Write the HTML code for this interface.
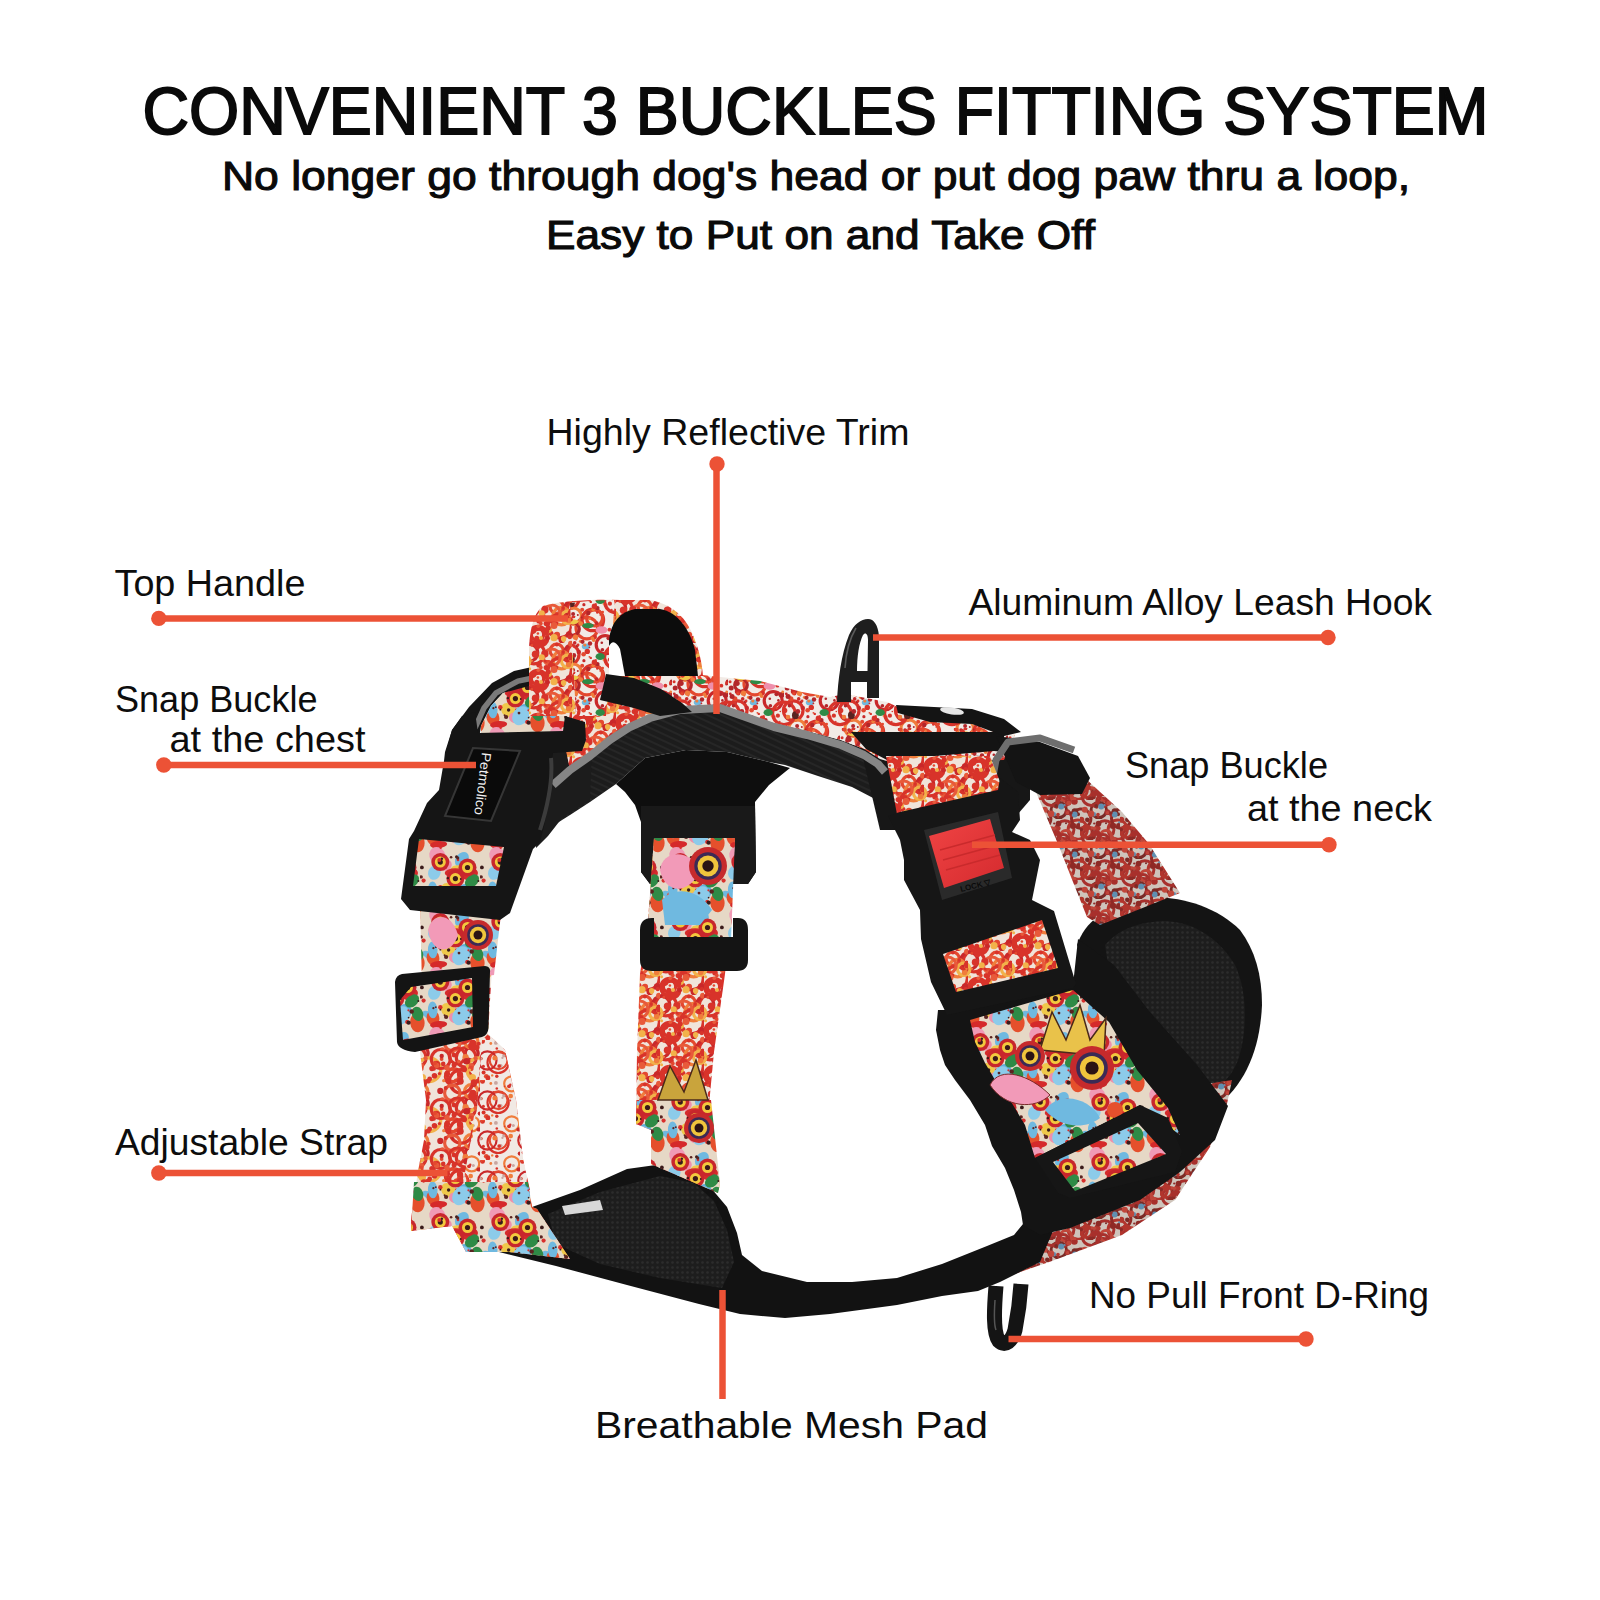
<!DOCTYPE html>
<html><head><meta charset="utf-8">
<style>
html,body{margin:0;padding:0;background:#fff;width:1600px;height:1600px;overflow:hidden}
svg{display:block}
.t{font-family:"Liberation Sans",sans-serif;fill:#0a0a0a}
.l{font-family:"Liberation Sans",sans-serif;fill:#0d0d0d;font-size:37px}
.ln{stroke:#ec5236;stroke-width:6.5;fill:none}
.dt{fill:#ec5236}
</style></head><body>
<svg width="1600" height="1600" viewBox="0 0 1600 1600">
<rect width="1600" height="1600" fill="#fff"/>
<g id="harness"><defs>
<pattern id="pw" width="56" height="56" patternUnits="userSpaceOnUse">
<rect width="56" height="56" fill="#f2ebe6"/>
<circle cx="9.2" cy="38.6" r="9.8" fill="none" stroke="#d8332a" stroke-width="3.2"/>
<circle cx="65.2" cy="38.6" r="9.8" fill="none" stroke="#d8332a" stroke-width="3.2"/>
<circle cx="26.8" cy="12.1" r="10.8" fill="none" stroke="#e4482f" stroke-width="3.2"/>
<circle cx="45.2" cy="28.7" r="9.0" fill="none" stroke="#c9282a" stroke-width="3.2"/>
<circle cx="13.2" cy="0.2" r="8.2" fill="none" stroke="#f07d3c" stroke-width="3.2"/>
<circle cx="13.2" cy="56.2" r="8.2" fill="none" stroke="#f07d3c" stroke-width="3.2"/>
<circle cx="32.8" cy="3.9" r="10.8" fill="none" stroke="#d8332a" stroke-width="3.2"/>
<circle cx="32.8" cy="59.9" r="10.8" fill="none" stroke="#d8332a" stroke-width="3.2"/>
<circle cx="13.0" cy="13.0" r="6.3" fill="none" stroke="#b3262a" stroke-width="3.2"/>
<circle cx="-0.1" cy="41.4" r="11.3" fill="none" stroke="#d8332a" stroke-width="3.2"/>
<circle cx="55.9" cy="41.4" r="11.3" fill="none" stroke="#d8332a" stroke-width="3.2"/>
<circle cx="34.5" cy="1.9" r="8.0" fill="none" stroke="#e4482f" stroke-width="3.2"/>
<circle cx="34.5" cy="57.9" r="8.0" fill="none" stroke="#e4482f" stroke-width="3.2"/>
<ellipse cx="27.9" cy="9.6" rx="5.9" ry="2.7" fill="#2f8a46"/>
<ellipse cx="11.4" cy="43.2" rx="3.4" ry="3.9" fill="#5a2320"/>
<ellipse cx="25.8" cy="30.5" rx="4.0" ry="3.0" fill="#6fb9e0"/>
<ellipse cx="13.0" cy="5.8" rx="5.6" ry="2.5" fill="#efc84a"/>
<ellipse cx="41.5" cy="14.0" rx="5.9" ry="3.8" fill="#ef8fab"/>
<ellipse cx="40.2" cy="40.6" rx="4.7" ry="3.5" fill="#2f8a46"/>
<circle cx="6.9" cy="26.7" r="2.5" fill="#e4482f"/>
<circle cx="19.1" cy="8.2" r="1.9" fill="#c9282a"/>
<circle cx="20.5" cy="25.3" r="1.6" fill="#f07d3c"/>
<circle cx="21.6" cy="1.5" r="1.0" fill="#b3262a"/>
<circle cx="40.1" cy="55.0" r="0.8" fill="#d8332a"/>
<circle cx="30.8" cy="41.9" r="1.2" fill="#d8332a"/>
<circle cx="17.8" cy="54.9" r="1.0" fill="#b3262a"/>
<circle cx="9.5" cy="19.5" r="2.7" fill="#c9282a"/>
<circle cx="42.7" cy="52.1" r="1.3" fill="#e4482f"/>
<circle cx="3.7" cy="45.6" r="2.4" fill="#c9282a"/>
<circle cx="9.0" cy="2.1" r="1.8" fill="#b3262a"/>
<circle cx="53.7" cy="22.8" r="2.8" fill="#b3262a"/>
<circle cx="33.1" cy="49.5" r="1.8" fill="#f07d3c"/>
<circle cx="37.3" cy="52.4" r="1.3" fill="#d8332a"/>
<circle cx="3.9" cy="45.1" r="2.3" fill="#f07d3c"/>
<circle cx="3.2" cy="16.1" r="2.5" fill="#b3262a"/>
<circle cx="16.2" cy="23.5" r="1.1" fill="#d8332a"/>
<circle cx="48.7" cy="36.1" r="1.1" fill="#e4482f"/>
<circle cx="41.8" cy="26.8" r="1.3" fill="#b3262a"/>
<circle cx="29.4" cy="40.8" r="0.9" fill="#e4482f"/>
<circle cx="50.4" cy="20.5" r="1.1" fill="#c9282a"/>
<circle cx="33.7" cy="23.9" r="2.0" fill="#f07d3c"/>
<circle cx="17.2" cy="29.9" r="1.4" fill="#b3262a"/>
<circle cx="0.6" cy="38.4" r="2.7" fill="#d8332a"/>
<circle cx="14.8" cy="18.3" r="1.3" fill="#d8332a"/>
<circle cx="23.6" cy="38.3" r="2.3" fill="#e4482f"/>
<circle cx="7.5" cy="5.3" r="1.0" fill="#d8332a"/>
<circle cx="35.9" cy="44.0" r="0.9" fill="#d8332a"/>
<circle cx="36.7" cy="7.1" r="1.9" fill="#c9282a"/>
<circle cx="22.2" cy="49.7" r="2.0" fill="#e4482f"/>
<circle cx="10.3" cy="21.2" r="2.2" fill="#d8332a"/>
<circle cx="42.4" cy="33.8" r="1.8" fill="#b3262a"/>
<circle cx="43.4" cy="44.3" r="0.8" fill="#f07d3c"/>
<circle cx="48.4" cy="22.3" r="1.9" fill="#b3262a"/>
<circle cx="13.1" cy="54.0" r="2.0" fill="#b3262a"/>
<circle cx="2.3" cy="21.8" r="1.4" fill="#c9282a"/>
<circle cx="45.8" cy="45.0" r="1.8" fill="#d8332a"/>
<circle cx="5.5" cy="33.7" r="1.8" fill="#b3262a"/>
<circle cx="18.1" cy="28.9" r="1.4" fill="#d8332a"/>
<circle cx="29.4" cy="31.4" r="0.9" fill="#c9282a"/>
<circle cx="54.7" cy="19.9" r="1.4" fill="#f07d3c"/>
<circle cx="6.0" cy="4.3" r="0.9" fill="#f07d3c"/>
<circle cx="28.3" cy="53.0" r="2.2" fill="#b3262a"/>
<circle cx="24.8" cy="29.0" r="1.6" fill="#f07d3c"/>
<circle cx="3.9" cy="1.4" r="2.1" fill="#d8332a"/>
<circle cx="13.8" cy="39.4" r="2.4" fill="#b3262a"/>
<circle cx="23.9" cy="44.7" r="1.6" fill="#c9282a"/>
<circle cx="27.3" cy="35.4" r="2.7" fill="#d8332a"/>
<circle cx="2.1" cy="9.7" r="1.5" fill="#d8332a"/>
<circle cx="49.9" cy="43.7" r="2.1" fill="#d8332a"/>
<circle cx="37.4" cy="48.1" r="2.2" fill="#b3262a"/>
<circle cx="14.7" cy="26.9" r="1.8" fill="#c9282a"/>
<circle cx="34.4" cy="46.2" r="2.7" fill="#d8332a"/>
<circle cx="9.1" cy="11.3" r="2.6" fill="#b3262a"/>
<circle cx="8.1" cy="31.0" r="1.0" fill="#c9282a"/>
<circle cx="34.7" cy="21.0" r="2.3" fill="#d8332a"/>
<circle cx="55.5" cy="9.3" r="1.7" fill="#b3262a"/>
<circle cx="18.8" cy="35.9" r="2.2" fill="#c9282a"/>
<circle cx="4.6" cy="1.6" r="1.8" fill="#e4482f"/>
<circle cx="50.4" cy="28.4" r="1.3" fill="#b3262a"/>
<circle cx="15.5" cy="21.2" r="2.7" fill="#f07d3c"/>
<circle cx="22.5" cy="25.8" r="2.1" fill="#b3262a"/>
<circle cx="9.8" cy="21.5" r="1.3" fill="#e4482f"/>
<circle cx="54.6" cy="12.1" r="1.5" fill="#b3262a"/>
<circle cx="52.3" cy="39.5" r="0.8" fill="#d8332a"/>
<circle cx="32.5" cy="22.3" r="1.7" fill="#f07d3c"/>
<circle cx="13.5" cy="0.4" r="1.9" fill="#d8332a"/>
<circle cx="54.5" cy="10.7" r="1.5" fill="#d8332a"/>
<circle cx="20.7" cy="7.6" r="2.4" fill="#f07d3c"/>
<circle cx="29.6" cy="2.8" r="1.2" fill="#f07d3c"/>
<circle cx="49.4" cy="13.7" r="1.9" fill="#d8332a"/>
<circle cx="51.8" cy="49.5" r="0.8" fill="#d8332a"/>
<circle cx="4.1" cy="24.4" r="2.5" fill="#b3262a"/>
<circle cx="10.5" cy="3.3" r="2.4" fill="#d8332a"/>
<circle cx="30.0" cy="27.5" r="2.2" fill="#b3262a"/>
</pattern><pattern id="pl" width="40" height="40" patternUnits="userSpaceOnUse">
<rect width="40" height="40" fill="#f1e9e4"/>
<circle cx="18.1" cy="22.4" r="10.6" fill="none" stroke="#d8332a" stroke-width="2.2"/>
<circle cx="18.6" cy="20.3" r="8.9" fill="none" stroke="#e4482f" stroke-width="2.2"/>
<circle cx="7.4" cy="20.5" r="9.1" fill="none" stroke="#c9282a" stroke-width="2.2"/>
<circle cx="47.4" cy="20.5" r="9.1" fill="none" stroke="#c9282a" stroke-width="2.2"/>
<circle cx="31.7" cy="3.8" r="7.5" fill="none" stroke="#f07d3c" stroke-width="2.2"/>
<circle cx="31.7" cy="43.8" r="7.5" fill="none" stroke="#f07d3c" stroke-width="2.2"/>
<circle cx="3.6" cy="32.4" r="2.0" fill="#d8332a"/>
<circle cx="23.8" cy="15.8" r="1.6" fill="#c9a6a0"/>
<circle cx="24.6" cy="6.3" r="0.8" fill="#d8332a"/>
<circle cx="2.5" cy="1.4" r="2.4" fill="#d8332a"/>
<circle cx="1.2" cy="18.6" r="1.6" fill="#e4482f"/>
<circle cx="20.8" cy="25.6" r="1.7" fill="#c9a6a0"/>
<circle cx="3.4" cy="26.2" r="1.5" fill="#d8332a"/>
<circle cx="39.8" cy="33.6" r="2.1" fill="#c9282a"/>
<circle cx="30.3" cy="20.5" r="0.9" fill="#d8332a"/>
<circle cx="30.7" cy="16.0" r="2.3" fill="#f07d3c"/>
<circle cx="2.7" cy="0.7" r="2.0" fill="#e4482f"/>
<circle cx="8.4" cy="36.4" r="1.6" fill="#c9a6a0"/>
<circle cx="15.9" cy="2.9" r="1.9" fill="#c9a6a0"/>
<circle cx="10.8" cy="3.5" r="1.4" fill="#f07d3c"/>
<circle cx="30.3" cy="4.7" r="1.2" fill="#d8332a"/>
<circle cx="0.4" cy="18.6" r="1.7" fill="#c9a6a0"/>
<circle cx="22.4" cy="17.9" r="1.1" fill="#c9a6a0"/>
<circle cx="30.8" cy="16.8" r="1.5" fill="#f07d3c"/>
<circle cx="16.8" cy="8.5" r="1.3" fill="#d8332a"/>
<circle cx="12.2" cy="35.4" r="1.2" fill="#f07d3c"/>
<circle cx="39.8" cy="24.1" r="1.8" fill="#d8332a"/>
<circle cx="39.6" cy="8.5" r="1.3" fill="#d8332a"/>
<circle cx="13.2" cy="11.9" r="0.9" fill="#d8332a"/>
<circle cx="8.3" cy="25.5" r="0.8" fill="#c9282a"/>
<circle cx="14.9" cy="18.1" r="2.5" fill="#f07d3c"/>
<circle cx="33.3" cy="5.4" r="1.5" fill="#c9a6a0"/>
<circle cx="6.2" cy="36.3" r="2.3" fill="#e4482f"/>
<circle cx="29.0" cy="6.3" r="1.9" fill="#d8332a"/>
<circle cx="7.9" cy="38.0" r="2.4" fill="#d8332a"/>
<circle cx="3.1" cy="1.9" r="1.0" fill="#d8332a"/>
<circle cx="38.5" cy="9.5" r="2.1" fill="#c9282a"/>
<circle cx="16.8" cy="36.2" r="1.7" fill="#d8332a"/>
<circle cx="7.0" cy="28.8" r="0.9" fill="#e4482f"/>
<circle cx="19.2" cy="26.1" r="1.9" fill="#d8332a"/>
</pattern><pattern id="pr" width="44" height="44" patternUnits="userSpaceOnUse">
<rect width="44" height="44" fill="#f0e4da"/>
<circle cx="5.9" cy="-6.7" r="10.6" fill="none" stroke="#d8332a" stroke-width="3.2"/>
<circle cx="5.9" cy="37.3" r="10.6" fill="none" stroke="#d8332a" stroke-width="3.2"/>
<circle cx="49.9" cy="-6.7" r="10.6" fill="none" stroke="#d8332a" stroke-width="3.2"/>
<circle cx="49.9" cy="37.3" r="10.6" fill="none" stroke="#d8332a" stroke-width="3.2"/>
<circle cx="11.2" cy="21.8" r="8.7" fill="none" stroke="#d8332a" stroke-width="3.2"/>
<circle cx="28.7" cy="34.7" r="6.6" fill="none" stroke="#e4482f" stroke-width="3.2"/>
<circle cx="1.2" cy="-7.2" r="8.6" fill="none" stroke="#c9282a" stroke-width="3.2"/>
<circle cx="1.2" cy="36.8" r="8.6" fill="none" stroke="#c9282a" stroke-width="3.2"/>
<circle cx="45.2" cy="-7.2" r="8.6" fill="none" stroke="#c9282a" stroke-width="3.2"/>
<circle cx="45.2" cy="36.8" r="8.6" fill="none" stroke="#c9282a" stroke-width="3.2"/>
<circle cx="33.5" cy="0.1" r="8.7" fill="none" stroke="#f07d3c" stroke-width="3.2"/>
<circle cx="33.5" cy="44.1" r="8.7" fill="none" stroke="#f07d3c" stroke-width="3.2"/>
<circle cx="31.7" cy="10.1" r="11.7" fill="none" stroke="#d8332a" stroke-width="3.2"/>
<circle cx="31.7" cy="54.1" r="11.7" fill="none" stroke="#d8332a" stroke-width="3.2"/>
<circle cx="-4.3" cy="1.3" r="6.2" fill="none" stroke="#f2b24a" stroke-width="3.2"/>
<circle cx="-4.3" cy="45.3" r="6.2" fill="none" stroke="#f2b24a" stroke-width="3.2"/>
<circle cx="39.7" cy="1.3" r="6.2" fill="none" stroke="#f2b24a" stroke-width="3.2"/>
<circle cx="39.7" cy="45.3" r="6.2" fill="none" stroke="#f2b24a" stroke-width="3.2"/>
<circle cx="23.8" cy="-2.7" r="8.3" fill="none" stroke="#e85a3a" stroke-width="3.2"/>
<circle cx="23.8" cy="41.3" r="8.3" fill="none" stroke="#e85a3a" stroke-width="3.2"/>
<circle cx="9.5" cy="18.6" r="6.2" fill="none" stroke="#d8332a" stroke-width="3.2"/>
<circle cx="9.8" cy="19.3" r="9.0" fill="none" stroke="#d8332a" stroke-width="3.2"/>
<circle cx="10.3" cy="10.2" r="1.8" fill="#e85a3a"/>
<circle cx="41.9" cy="40.8" r="2.3" fill="#d8332a"/>
<circle cx="40.6" cy="4.4" r="2.8" fill="#f07d3c"/>
<circle cx="5.3" cy="14.6" r="3.1" fill="#d8332a"/>
<circle cx="41.2" cy="18.6" r="3.4" fill="#c9282a"/>
<circle cx="13.3" cy="25.9" r="3.5" fill="#d8332a"/>
<circle cx="17.3" cy="37.5" r="2.4" fill="#f2b24a"/>
<circle cx="18.2" cy="7.6" r="2.6" fill="#d8332a"/>
<circle cx="3.8" cy="29.2" r="1.5" fill="#e4482f"/>
<circle cx="22.9" cy="17.3" r="2.5" fill="#d8332a"/>
<circle cx="20.7" cy="13.6" r="3.4" fill="#f2b24a"/>
<circle cx="28.5" cy="7.4" r="1.8" fill="#d8332a"/>
<circle cx="33.9" cy="23.7" r="3.4" fill="#c9282a"/>
<circle cx="17.8" cy="15.1" r="3.4" fill="#d8332a"/>
<circle cx="20.2" cy="11.8" r="2.6" fill="#d8332a"/>
<circle cx="16.9" cy="37.7" r="3.7" fill="#d8332a"/>
<circle cx="35.6" cy="22.8" r="2.7" fill="#f2b24a"/>
<circle cx="41.8" cy="21.2" r="2.1" fill="#d8332a"/>
<circle cx="8.8" cy="22.2" r="2.5" fill="#d8332a"/>
<circle cx="18.2" cy="0.1" r="2.6" fill="#d8332a"/>
<circle cx="20.2" cy="1.2" r="1.8" fill="#e4482f"/>
<circle cx="24.2" cy="8.0" r="1.4" fill="#d8332a"/>
<circle cx="35.1" cy="35.9" r="1.9" fill="#d8332a"/>
<circle cx="3.7" cy="0.7" r="1.2" fill="#f07d3c"/>
<circle cx="11.0" cy="4.8" r="2.8" fill="#d8332a"/>
<circle cx="12.8" cy="7.4" r="1.9" fill="#e4482f"/>
<circle cx="28.9" cy="28.5" r="2.0" fill="#d8332a"/>
<circle cx="21.8" cy="5.0" r="2.0" fill="#d8332a"/>
<circle cx="18.5" cy="8.3" r="1.5" fill="#d8332a"/>
<circle cx="43.0" cy="42.5" r="2.3" fill="#d8332a"/>
<circle cx="9.9" cy="17.5" r="1.3" fill="#e4482f"/>
<circle cx="19.6" cy="22.3" r="2.3" fill="#c9282a"/>
<circle cx="43.0" cy="27.8" r="3.0" fill="#e85a3a"/>
<circle cx="9.8" cy="28.5" r="2.2" fill="#d8332a"/>
<circle cx="29.0" cy="18.8" r="3.1" fill="#e4482f"/>
<circle cx="42.6" cy="38.5" r="2.0" fill="#d8332a"/>
<circle cx="13.7" cy="41.3" r="3.1" fill="#f2b24a"/>
<circle cx="24.9" cy="5.7" r="2.7" fill="#d8332a"/>
<circle cx="26.0" cy="9.6" r="3.5" fill="#e85a3a"/>
<circle cx="7.5" cy="38.2" r="3.7" fill="#d8332a"/>
<circle cx="1.6" cy="8.8" r="1.5" fill="#f2b24a"/>
<circle cx="26.0" cy="21.7" r="3.6" fill="#f2b24a"/>
<circle cx="13.0" cy="22.0" r="2.0" fill="#f2b24a"/>
<circle cx="39.6" cy="0.8" r="1.7" fill="#d8332a"/>
<circle cx="35.7" cy="24.8" r="1.6" fill="#f2b24a"/>
<circle cx="9.4" cy="29.7" r="3.4" fill="#d8332a"/>
</pattern><pattern id="pr2" width="50" height="50" patternUnits="userSpaceOnUse">
<rect width="50" height="50" fill="#f0e4da"/>
<circle cx="16.2" cy="7.5" r="9.9" fill="none" stroke="#d8332a" stroke-width="3.2"/>
<circle cx="16.2" cy="57.5" r="9.9" fill="none" stroke="#d8332a" stroke-width="3.2"/>
<circle cx="3.6" cy="26.8" r="8.2" fill="none" stroke="#d8332a" stroke-width="3.2"/>
<circle cx="53.6" cy="26.8" r="8.2" fill="none" stroke="#d8332a" stroke-width="3.2"/>
<circle cx="2.9" cy="25.4" r="6.2" fill="none" stroke="#e4482f" stroke-width="3.2"/>
<circle cx="52.9" cy="25.4" r="6.2" fill="none" stroke="#e4482f" stroke-width="3.2"/>
<circle cx="21.7" cy="3.5" r="6.5" fill="none" stroke="#c9282a" stroke-width="3.2"/>
<circle cx="21.7" cy="53.5" r="6.5" fill="none" stroke="#c9282a" stroke-width="3.2"/>
<circle cx="21.2" cy="41.3" r="6.7" fill="none" stroke="#f07d3c" stroke-width="3.2"/>
<circle cx="11.2" cy="31.4" r="11.7" fill="none" stroke="#d8332a" stroke-width="3.2"/>
<circle cx="61.2" cy="31.4" r="11.7" fill="none" stroke="#d8332a" stroke-width="3.2"/>
<circle cx="28.9" cy="19.8" r="11.9" fill="none" stroke="#f2b24a" stroke-width="3.2"/>
<circle cx="2.3" cy="-7.1" r="7.7" fill="none" stroke="#e85a3a" stroke-width="3.2"/>
<circle cx="2.3" cy="42.9" r="7.7" fill="none" stroke="#e85a3a" stroke-width="3.2"/>
<circle cx="52.3" cy="-7.1" r="7.7" fill="none" stroke="#e85a3a" stroke-width="3.2"/>
<circle cx="52.3" cy="42.9" r="7.7" fill="none" stroke="#e85a3a" stroke-width="3.2"/>
<circle cx="7.2" cy="5.9" r="7.9" fill="none" stroke="#d8332a" stroke-width="3.2"/>
<circle cx="7.2" cy="55.9" r="7.9" fill="none" stroke="#d8332a" stroke-width="3.2"/>
<circle cx="57.2" cy="5.9" r="7.9" fill="none" stroke="#d8332a" stroke-width="3.2"/>
<circle cx="57.2" cy="55.9" r="7.9" fill="none" stroke="#d8332a" stroke-width="3.2"/>
<circle cx="-9.2" cy="9.0" r="9.5" fill="none" stroke="#d8332a" stroke-width="3.2"/>
<circle cx="-9.2" cy="59.0" r="9.5" fill="none" stroke="#d8332a" stroke-width="3.2"/>
<circle cx="40.8" cy="9.0" r="9.5" fill="none" stroke="#d8332a" stroke-width="3.2"/>
<circle cx="40.8" cy="59.0" r="9.5" fill="none" stroke="#d8332a" stroke-width="3.2"/>
<circle cx="31.9" cy="18.6" r="2.6" fill="#d8332a"/>
<circle cx="28.2" cy="31.0" r="2.5" fill="#d8332a"/>
<circle cx="21.4" cy="15.7" r="2.7" fill="#e85a3a"/>
<circle cx="18.1" cy="12.4" r="1.7" fill="#c9282a"/>
<circle cx="4.1" cy="15.0" r="2.5" fill="#d8332a"/>
<circle cx="36.5" cy="14.4" r="3.7" fill="#d8332a"/>
<circle cx="25.6" cy="8.2" r="2.1" fill="#e85a3a"/>
<circle cx="21.1" cy="48.1" r="1.4" fill="#d8332a"/>
<circle cx="28.7" cy="43.8" r="2.0" fill="#d8332a"/>
<circle cx="29.7" cy="29.0" r="2.4" fill="#d8332a"/>
<circle cx="47.2" cy="23.7" r="2.9" fill="#d8332a"/>
<circle cx="36.6" cy="15.5" r="2.7" fill="#e85a3a"/>
<circle cx="14.2" cy="19.3" r="2.9" fill="#d8332a"/>
<circle cx="47.0" cy="17.8" r="2.8" fill="#e85a3a"/>
<circle cx="2.9" cy="38.4" r="1.5" fill="#c9282a"/>
<circle cx="19.9" cy="45.8" r="2.5" fill="#e4482f"/>
<circle cx="22.5" cy="27.5" r="3.5" fill="#f2b24a"/>
<circle cx="43.2" cy="13.9" r="2.3" fill="#d8332a"/>
<circle cx="34.1" cy="19.0" r="1.8" fill="#d8332a"/>
<circle cx="8.8" cy="11.6" r="1.8" fill="#e85a3a"/>
<circle cx="41.6" cy="9.1" r="1.9" fill="#e4482f"/>
<circle cx="20.9" cy="18.5" r="2.7" fill="#e4482f"/>
<circle cx="34.5" cy="25.8" r="2.8" fill="#d8332a"/>
<circle cx="22.8" cy="43.5" r="3.7" fill="#d8332a"/>
<circle cx="19.6" cy="19.9" r="1.5" fill="#f2b24a"/>
<circle cx="3.1" cy="3.4" r="1.7" fill="#e4482f"/>
<circle cx="5.5" cy="30.0" r="1.5" fill="#e4482f"/>
<circle cx="26.8" cy="47.4" r="2.8" fill="#d8332a"/>
<circle cx="43.7" cy="30.7" r="1.6" fill="#f07d3c"/>
<circle cx="47.8" cy="30.1" r="2.4" fill="#d8332a"/>
<circle cx="42.4" cy="49.7" r="2.4" fill="#e85a3a"/>
<circle cx="15.6" cy="7.2" r="3.1" fill="#f07d3c"/>
<circle cx="23.9" cy="34.6" r="2.5" fill="#c9282a"/>
<circle cx="47.5" cy="26.4" r="1.6" fill="#d8332a"/>
<circle cx="45.7" cy="37.9" r="2.0" fill="#d8332a"/>
<circle cx="34.8" cy="13.1" r="2.2" fill="#e4482f"/>
<circle cx="17.8" cy="11.1" r="2.6" fill="#d8332a"/>
<circle cx="16.5" cy="11.2" r="3.3" fill="#c9282a"/>
<circle cx="40.3" cy="40.9" r="3.1" fill="#c9282a"/>
<circle cx="10.0" cy="24.6" r="3.1" fill="#d8332a"/>
<circle cx="39.5" cy="23.6" r="1.7" fill="#d8332a"/>
<circle cx="22.4" cy="46.9" r="3.8" fill="#d8332a"/>
<circle cx="4.0" cy="5.1" r="2.4" fill="#d8332a"/>
<circle cx="10.2" cy="31.2" r="3.5" fill="#d8332a"/>
<circle cx="24.0" cy="32.6" r="3.3" fill="#d8332a"/>
<circle cx="41.7" cy="6.0" r="2.2" fill="#c9282a"/>
</pattern><pattern id="pm" width="60" height="60" patternUnits="userSpaceOnUse">
<rect width="60" height="60" fill="#e6d8c6"/>
<ellipse cx="14.3" cy="32.7" rx="7.2" ry="6.2" fill="#8ccbea" transform="rotate(105 14.3 32.7)"/>
<ellipse cx="36.3" cy="-5.5" rx="7.8" ry="6.0" fill="#d52a2a" transform="rotate(179 36.3 -5.5)"/>
<ellipse cx="36.3" cy="54.5" rx="7.8" ry="6.0" fill="#d52a2a" transform="rotate(179 36.3 54.5)"/>
<ellipse cx="28.2" cy="50.2" rx="7.9" ry="6.4" fill="#efc84a" transform="rotate(42 28.2 50.2)"/>
<ellipse cx="9.1" cy="-4.4" rx="7.3" ry="3.6" fill="#6fb9e0" transform="rotate(29 9.1 -4.4)"/>
<ellipse cx="9.1" cy="55.6" rx="7.3" ry="3.6" fill="#6fb9e0" transform="rotate(29 9.1 55.6)"/>
<ellipse cx="-2.6" cy="2.6" rx="9.7" ry="7.2" fill="#e5502c" transform="rotate(85 -2.6 2.6)"/>
<ellipse cx="-2.6" cy="62.6" rx="9.7" ry="7.2" fill="#e5502c" transform="rotate(85 -2.6 62.6)"/>
<ellipse cx="57.4" cy="2.6" rx="9.7" ry="7.2" fill="#e5502c" transform="rotate(85 57.4 2.6)"/>
<ellipse cx="57.4" cy="62.6" rx="9.7" ry="7.2" fill="#e5502c" transform="rotate(85 57.4 62.6)"/>
<ellipse cx="43.1" cy="-7.3" rx="9.3" ry="7.6" fill="#5fb0dc" transform="rotate(131 43.1 -7.3)"/>
<ellipse cx="43.1" cy="52.7" rx="9.3" ry="7.6" fill="#5fb0dc" transform="rotate(131 43.1 52.7)"/>
<ellipse cx="34.6" cy="-2.2" rx="5.8" ry="5.1" fill="#ef8fab" transform="rotate(24 34.6 -2.2)"/>
<ellipse cx="34.6" cy="57.8" rx="5.8" ry="5.1" fill="#ef8fab" transform="rotate(24 34.6 57.8)"/>
<ellipse cx="13.0" cy="-2.1" rx="7.6" ry="6.3" fill="#e5502c" transform="rotate(76 13.0 -2.1)"/>
<ellipse cx="13.0" cy="57.9" rx="7.6" ry="6.3" fill="#e5502c" transform="rotate(76 13.0 57.9)"/>
<ellipse cx="50.0" cy="34.4" rx="8.2" ry="5.3" fill="#d52a2a" transform="rotate(163 50.0 34.4)"/>
<ellipse cx="40.9" cy="-4.3" rx="10.1" ry="8.0" fill="#8ccbea" transform="rotate(125 40.9 -4.3)"/>
<ellipse cx="40.9" cy="55.7" rx="10.1" ry="8.0" fill="#8ccbea" transform="rotate(125 40.9 55.7)"/>
<ellipse cx="41.9" cy="19.6" rx="8.3" ry="6.1" fill="#6fb9e0" transform="rotate(128 41.9 19.6)"/>
<ellipse cx="12.7" cy="49.9" rx="8.4" ry="4.8" fill="#6fb9e0" transform="rotate(87 12.7 49.9)"/>
<ellipse cx="38.3" cy="29.0" rx="7.1" ry="3.8" fill="#efc84a" transform="rotate(4 38.3 29.0)"/>
<ellipse cx="25.6" cy="24.9" rx="5.7" ry="6.2" fill="#ef8fab" transform="rotate(68 25.6 24.9)"/>
<ellipse cx="35.2" cy="33.1" rx="10.5" ry="4.8" fill="#d52a2a" transform="rotate(180 35.2 33.1)"/>
<ellipse cx="18.6" cy="4.6" rx="8.6" ry="3.6" fill="#d52a2a" transform="rotate(175 18.6 4.6)"/>
<ellipse cx="18.6" cy="64.6" rx="8.6" ry="3.6" fill="#d52a2a" transform="rotate(175 18.6 64.6)"/>
<ellipse cx="17.5" cy="15.8" rx="9.1" ry="7.9" fill="#f09ab6" transform="rotate(56 17.5 15.8)"/>
<ellipse cx="-2.5" cy="-6.2" rx="7.3" ry="5.6" fill="#2f8a46" transform="rotate(70 -2.5 -6.2)"/>
<ellipse cx="-2.5" cy="53.8" rx="7.3" ry="5.6" fill="#2f8a46" transform="rotate(70 -2.5 53.8)"/>
<ellipse cx="57.5" cy="-6.2" rx="7.3" ry="5.6" fill="#2f8a46" transform="rotate(70 57.5 -6.2)"/>
<ellipse cx="57.5" cy="53.8" rx="7.3" ry="5.6" fill="#2f8a46" transform="rotate(70 57.5 53.8)"/>
<ellipse cx="52.0" cy="40.9" rx="5.6" ry="7.9" fill="#2f8a46" transform="rotate(49 52.0 40.9)"/>
<circle cx="35.4" cy="38.6" r="9" fill="#c8262c"/><circle cx="35.4" cy="38.6" r="5.5" fill="#f3c93d"/><circle cx="35.4" cy="38.6" r="2.6" fill="#3a1a1a"/>
<circle cx="47.5" cy="27.5" r="9" fill="#c8262c"/><circle cx="47.5" cy="27.5" r="5.5" fill="#f3c93d"/><circle cx="47.5" cy="27.5" r="2.6" fill="#3a1a1a"/>
<circle cx="20.3" cy="22.1" r="9" fill="#c8262c"/><circle cx="20.3" cy="22.1" r="5.5" fill="#f3c93d"/><circle cx="20.3" cy="22.1" r="2.6" fill="#3a1a1a"/>
<circle cx="20.3" cy="47.3" r="2.2" fill="#d8302c"/>
<circle cx="1.2" cy="36.9" r="1.7" fill="#5a2320"/>
<circle cx="38.0" cy="19.9" r="1.3" fill="#d8302c"/>
<circle cx="36.5" cy="16.7" r="1.5" fill="#3a1a1a"/>
<circle cx="3.6" cy="40.6" r="2.1" fill="#d8302c"/>
<circle cx="37.7" cy="17.9" r="1.6" fill="#5a2320"/>
<circle cx="21.8" cy="18.8" r="1.3" fill="#3a1a1a"/>
<circle cx="15.8" cy="47.2" r="0.9" fill="#5a2320"/>
<circle cx="58.3" cy="41.0" r="1.0" fill="#3a1a1a"/>
<circle cx="13.4" cy="48.2" r="1.1" fill="#5a2320"/>
<circle cx="40.7" cy="39.0" r="0.9" fill="#3a1a1a"/>
<circle cx="19.3" cy="20.0" r="2.0" fill="#d8302c"/>
<circle cx="48.6" cy="57.6" r="0.9" fill="#3a1a1a"/>
<circle cx="39.0" cy="53.1" r="1.4" fill="#5a2320"/>
<circle cx="47.2" cy="2.0" r="2.1" fill="#d8302c"/>
<circle cx="48.4" cy="50.3" r="1.1" fill="#d8302c"/>
<circle cx="20.4" cy="49.7" r="0.9" fill="#3a1a1a"/>
<circle cx="20.7" cy="7.8" r="1.2" fill="#d8302c"/>
<circle cx="27.9" cy="38.1" r="1.2" fill="#3a1a1a"/>
<circle cx="24.6" cy="55.2" r="1.0" fill="#5a2320"/>
<circle cx="28.6" cy="50.0" r="1.7" fill="#3a1a1a"/>
<circle cx="26.1" cy="57.0" r="2.1" fill="#5a2320"/>
<circle cx="1.9" cy="27.4" r="1.9" fill="#3a1a1a"/>
<circle cx="31.1" cy="17.3" r="1.3" fill="#5a2320"/>
<circle cx="51.7" cy="51.5" r="2.2" fill="#5a2320"/>
<circle cx="48.6" cy="2.7" r="2.1" fill="#3a1a1a"/>
</pattern><pattern id="pd" width="40" height="40" patternUnits="userSpaceOnUse">
<rect width="40" height="40" fill="#cfc4bb"/>
<circle cx="24.9" cy="29.7" r="9.0" fill="none" stroke="#a8302c" stroke-width="3"/>
<circle cx="-2.3" cy="29.6" r="9.6" fill="none" stroke="#b2352d" stroke-width="3"/>
<circle cx="37.7" cy="29.6" r="9.6" fill="none" stroke="#b2352d" stroke-width="3"/>
<circle cx="1.2" cy="18.6" r="9.7" fill="none" stroke="#8e2a26" stroke-width="3"/>
<circle cx="41.2" cy="18.6" r="9.7" fill="none" stroke="#8e2a26" stroke-width="3"/>
<circle cx="26.0" cy="-4.0" r="5.6" fill="none" stroke="#c0463a" stroke-width="3"/>
<circle cx="26.0" cy="36.0" r="5.6" fill="none" stroke="#c0463a" stroke-width="3"/>
<circle cx="18.8" cy="9.9" r="7.7" fill="none" stroke="#7a2a25" stroke-width="3"/>
<circle cx="23.0" cy="0.5" r="6.1" fill="none" stroke="#a8302c" stroke-width="3"/>
<circle cx="23.0" cy="40.5" r="6.1" fill="none" stroke="#a8302c" stroke-width="3"/>
<circle cx="11.2" cy="-3.3" r="8.8" fill="none" stroke="#a8302c" stroke-width="3"/>
<circle cx="11.2" cy="36.7" r="8.8" fill="none" stroke="#a8302c" stroke-width="3"/>
<circle cx="6.4" cy="31.9" r="5.7" fill="none" stroke="#b2352d" stroke-width="3"/>
<circle cx="24.7" cy="5.1" r="1.0" fill="#5f8fb0"/>
<circle cx="0.2" cy="30.9" r="3.3" fill="#b2352d"/>
<circle cx="34.9" cy="11.6" r="3.3" fill="#7a2a25"/>
<circle cx="35.0" cy="25.0" r="1.4" fill="#a8302c"/>
<circle cx="7.9" cy="38.6" r="1.9" fill="#a8302c"/>
<circle cx="14.4" cy="6.6" r="1.3" fill="#a8302c"/>
<circle cx="13.3" cy="32.7" r="2.4" fill="#7a2a25"/>
<circle cx="27.1" cy="13.5" r="1.7" fill="#5f8fb0"/>
<circle cx="12.2" cy="27.9" r="1.4" fill="#c0463a"/>
<circle cx="28.2" cy="2.3" r="3.3" fill="#a8302c"/>
<circle cx="38.0" cy="14.3" r="2.0" fill="#7a2a25"/>
<circle cx="31.5" cy="14.6" r="2.4" fill="#a8302c"/>
<circle cx="18.1" cy="28.3" r="2.5" fill="#b2352d"/>
<circle cx="4.8" cy="9.8" r="3.0" fill="#c0463a"/>
<circle cx="13.8" cy="14.2" r="2.3" fill="#5f8fb0"/>
<circle cx="18.5" cy="23.6" r="2.9" fill="#8e2a26"/>
<circle cx="34.4" cy="1.5" r="3.3" fill="#a8302c"/>
<circle cx="8.3" cy="20.5" r="1.9" fill="#b2352d"/>
<circle cx="13.6" cy="37.0" r="2.3" fill="#8e2a26"/>
<circle cx="27.4" cy="12.2" r="2.9" fill="#a8302c"/>
<circle cx="6.0" cy="27.6" r="3.4" fill="#b2352d"/>
<circle cx="28.8" cy="3.2" r="2.4" fill="#c0463a"/>
<circle cx="1.3" cy="29.6" r="1.8" fill="#8e2a26"/>
<circle cx="18.2" cy="16.9" r="1.1" fill="#a8302c"/>
<circle cx="1.3" cy="19.7" r="3.0" fill="#b2352d"/>
<circle cx="39.3" cy="22.6" r="1.3" fill="#5f8fb0"/>
<circle cx="16.6" cy="6.8" r="1.9" fill="#a8302c"/>
<circle cx="33.8" cy="11.8" r="2.1" fill="#7a2a25"/>
<circle cx="34.1" cy="39.0" r="2.1" fill="#c0463a"/>
<circle cx="27.6" cy="12.7" r="1.7" fill="#c0463a"/>
<circle cx="16.2" cy="5.9" r="1.9" fill="#7a2a25"/>
<circle cx="38.4" cy="25.1" r="2.2" fill="#8e2a26"/>
<circle cx="7.2" cy="19.7" r="2.2" fill="#7a2a25"/>
<circle cx="34.7" cy="14.5" r="2.9" fill="#5f8fb0"/>
<circle cx="14.2" cy="23.5" r="1.1" fill="#8e2a26"/>
<circle cx="14.5" cy="28.2" r="1.7" fill="#c0463a"/>
<circle cx="10.6" cy="39.2" r="2.7" fill="#8e2a26"/>
<circle cx="26.0" cy="23.2" r="1.0" fill="#7a2a25"/>
<circle cx="30.9" cy="13.0" r="1.7" fill="#8e2a26"/>
<circle cx="32.7" cy="25.9" r="2.9" fill="#8e2a26"/>
<circle cx="11.0" cy="13.8" r="3.3" fill="#c0463a"/>
<circle cx="14.0" cy="33.7" r="3.1" fill="#a8302c"/>
<circle cx="18.0" cy="14.6" r="1.8" fill="#b2352d"/>
<circle cx="21.2" cy="6.6" r="3.0" fill="#5f8fb0"/>
</pattern>
<pattern id="pk" width="6" height="6" patternUnits="userSpaceOnUse" patternTransform="rotate(25)"><rect width="6" height="6" fill="#1c1c1c"/><rect width="6" height="2" fill="#262626"/></pattern>
<pattern id="pmesh" width="5" height="5" patternUnits="userSpaceOnUse"><rect width="5" height="5" fill="#1d1d1d"/><circle cx="2.5" cy="2.5" r="1.3" fill="#2c2c2c"/></pattern>
<linearGradient id="gbtn" x1="0" y1="0" x2="1" y2="1"><stop offset="0" stop-color="#f04444"/><stop offset="1" stop-color="#d42a2e"/></linearGradient>
</defs><!-- right big side pad -->
<path d="M1077,945 C1085,922 1105,906 1140,898 C1175,894 1215,905 1240,930 C1255,950 1262,975 1262,1005 C1260,1050 1245,1085 1215,1108 L1200,1110 L1150,1080 L1095,990 Z" fill="#141414"/>
<path d="M1105,945 C1120,928 1140,922 1165,921 C1195,922 1220,940 1235,965 C1247,990 1248,1030 1238,1060 C1230,1080 1218,1090 1200,1094 L1155,1065 L1112,990 Z" fill="url(#pmesh)"/>
<!-- right diagonal strap (upper) -->
<path d="M1036,792 L1086,779 L1122,812 L1149,844 L1180,893 L1150,905 L1100,925 L1087,917 L1073,882 L1058,844 Z" fill="url(#pd)"/>
<!-- lower-right strap -->
<path d="M1232,1080 L1227,1104 L1210,1147 L1175,1200 L1122,1235 L1052,1261 L1000,1279 L990,1283 L1000,1252 L1070,1226 L1140,1191 L1175,1156 L1196,1112 L1200,1085 Z" fill="url(#pd)"/>
<!-- saddle black band -->
<path d="M543,832 L553,785 L570,770 L590,756 L610,740 L630,727 L650,718 L680,710 L720,707 L774,723 L807,731 L841,740 L864,749 L880,759 L890,768 L896,830 L889,808 L875,799 L852,787 L818,776 L785,765 L769,762 L727,752 L686,750 L645,758 L616,784 L590,802 L570,815 Z" fill="url(#pk)"/>
<path d="M540,750 L592,748 L590,800 L562,818 L548,836 L536,848 Z" fill="#1c1c1c"/>
<!-- saddle right part (behind neck strap) -->
<path d="M860,745 L900,738 L1000,736 L1030,742 L1030,800 L1004,830 L880,830 Z" fill="#171717"/>
<!-- inner bowl + middle connector -->
<path d="M616,784 L645,758 L686,750 L727,752 L769,762 L790,768 L785,772 L769,785 L755,802 L756,872 L748,884 L650,884 L641,872 L641,822 L635,805 L625,792 Z" fill="#0e0e0e"/>
<path d="M641,806 L755,806 L756,872 L748,884 L650,884 L641,872 Z" fill="#191919"/>
<!-- top patterned strap -->
<path d="M530,698 L560,688 L600,679 L627,675 L675,672 L730,678 L760,681 L802,692 L830,697 L845,694 L887,702 L900,708 L940,716 L1015,735 L1004,760 L890,762 L880,759 L864,749 L841,740 L807,731 L774,723 L720,707 L680,710 L650,718 L630,727 L610,740 L590,756 L570,770 L565,745 L540,730 Z" fill="url(#pw)"/>
<path d="M566,716 L606,700 L634,708 L662,714 L650,718 L630,727 L610,740 L590,756 L570,770 L565,745 Z" fill="url(#pr)"/>
<path d="M553,785 L570,770 L590,756 L610,740 L630,727 L650,718 L680,710 L720,708 L774,727 L807,735 L841,745 L864,755 L878,764 L885,772" fill="none" stroke="#868686" stroke-width="8" stroke-linejoin="round"/>
<!-- black strip under top strap on right -->
<path d="M851,732 L1004,732 L1004,752 L994,751 L887,760 L866,749 Z" fill="#141414"/>
<!-- strap cover black (right top) -->
<path d="M896,705 L972,709 L1004,719 L1021,732 L1004,736 L972,724 L930,722 L898,713 Z" fill="#141414"/>
<ellipse cx="952" cy="711" rx="12" ry="3.5" fill="#e6e6e6" transform="rotate(8 952 711)"/>
<!-- right flap -->
<path d="M996,736 L1040,742 L1078,756 L1090,778 L1082,794 L1040,795 L1016,782 Z" fill="#141414"/>
<path d="M992,782 L996,760 L1008,742 L1040,738 L1074,750" fill="none" stroke="#6e6e6e" stroke-width="7" stroke-linejoin="round"/>
<!-- left saddle wrap band -->
<path d="M446,752 L452,730 L469,707 L492,683 L514,671 L532,667 L534,688 L503,693 L491,706 L481,726 L478,745 Z" fill="#151515"/>
<path d="M475,728 L484,708 L496,693 L518,681 L533,678" fill="none" stroke="#7a7a7a" stroke-width="5.5"/>
<!-- strap in chest buckle upper opening -->
<path d="M481,742 L481,726 L491,706 L503,693 L529,686 L566,696 L568,742 Z" fill="url(#pm)"/>
<!-- handle -->
<path d="M529,716 L529,650 C530,625 535,612 543,606 C560,601 590,599 620,600 L650,600 C670,604 685,615 693,635 C699,650 702,662 703,676 L606,676 L606,716 Z" fill="url(#pr)"/>
<path d="M570,603 C585,601 600,600 615,600 L610,660 L606,716 L576,716 Z" fill="url(#pw)"/>
<path d="M609,676 L609,640 C611,622 620,612 635,609 L660,609 C678,612 690,630 695,650 L698,676 Z" fill="#0c0c0c"/>
<path d="M609,676 L609,646 C612,640 616,641 620,649 L625,676 Z" fill="#fff"/>
<path d="M606,674 L634,678 L661,689 L682,703 L692,712 L660,716 L634,708 L600,700 Z" fill="#141414"/>
<!-- leash D ring -->
<path fill-rule="evenodd" d="M837,702 C838,680 841,655 849,635 C854,624 861,619 868,619 C874,619 878,625 879,636 L879,698 L867,698 L867,682 L851,682 L851,702 Z M857,671 C857,656 859,643 863,635 C865,632 868,633 868,640 L867.5,671 Z" fill="#1e1e1e"/>
<path d="M845,668 C846,652 850,638 856,628" fill="none" stroke="#5a5a5a" stroke-width="1.6"/>
<!-- bottom pad -->
<path d="M532,1207 L580,1190 L627,1169 L663,1164 L694,1174 L711,1188 L727,1207 L737,1233 L742,1255 L762,1271 L807,1282 L852,1282 L897,1278 L942,1264 L987,1246 L1014,1235 L1023,1224 L1055,1226 L1040,1262 L1000,1282 L978,1291 L942,1296 L897,1305 L830,1314 L785,1318 L740,1314 L699,1304 L627,1285 L556,1266 L499,1252 Z" fill="#121212"/>
<path d="M548,1214 L600,1192 L660,1176 L694,1183 L714,1201 L727,1230 L734,1262 L722,1288 L660,1278 L600,1264 L556,1244 Z" fill="url(#pmesh)"/>
<path d="M562,1206 L600,1200 L603,1210 L565,1215 Z" fill="#d8d8d8"/>
<!-- left strap -->
<path d="M420,905 L423,972 L420,1052 L426,1100 L424,1140 L418,1171 L411,1219 L411,1231 L452,1226 L466,1252 L509,1252 L570,1259 L537,1209 L532,1207 L523,1159 L516,1100 L505,1050 L488,1034 L492,968 L502,905 Z" fill="url(#pr2)"/>
<path d="M420,905 L502,905 L494,975 L422,985 Z" fill="url(#pm)"/>
<path d="M428,930 C432,912 452,912 458,935 C452,955 432,955 428,930 Z" fill="#f29ab8"/><circle cx="478" cy="935" r="15" fill="#c62a2c"/><circle cx="478" cy="935" r="10.8" fill="#3b2a55"/><circle cx="478" cy="935" r="8.2" fill="#f0c53c"/><circle cx="478" cy="935" r="4.5" fill="#2a1414"/>
<path d="M482,1040 L488,1034 L505,1050 L516,1100 L523,1159 L530,1190 L462,1190 L469,1150 L477,1109 Z" fill="url(#pl)"/>
<path d="M414,1182 L528,1182 L532,1207 L537,1209 L570,1259 L509,1252 L466,1252 L452,1226 L411,1231 Z" fill="url(#pm)"/>
<!-- left slider -->
<path d="M395,982 Q396,975 402,974 L485,966 Q491,967 490,972 L488.5,1028 Q488,1035 482,1037 L415,1052 Q398,1050 397,1042 Z" fill="#141414"/>
<path d="M411,987 L472,978 L473,1027 L403,1040 L400,1000 Z" fill="url(#pm)"/>
<!-- chest buckle -->
<path d="M445,752 L452,730 L462,716 L475,712 L478,733 L563,731 L565,716 L585,722 L586,740 L582,751 L553,753 L545,822 L540,842 L533,849 L510,913 L500,920 L410,910 L401,899 L409,839 L414,831 L427,803 L439,790 L444,761 Z" fill="#151515"/>
<path d="M551,758 C553,780 548,805 540,830" fill="none" stroke="#3c3c3c" stroke-width="4"/>
<path d="M473,748 L520,751 L491,821 L445,816 Z" fill="#0a0a0a" stroke="#363636" stroke-width="2"/>
<text x="0" y="0" transform="translate(482,752) rotate(97)" font-family="Liberation Sans, sans-serif" font-size="13.5" fill="#f2f2f2" textLength="63" lengthAdjust="spacingAndGlyphs">Petmolico</text>
<path d="M419,839 L504,847 L496,886 L413,886 Z" fill="url(#pm)"/>
<!-- middle strap -->
<path d="M654,838 L735,838 L730,920 L725,974 L714,1052 L709,1105 L720,1184 L718,1193 L651,1164 L651,1130 L636,1124 L637,1052 L640,974 L648,920 Z" fill="url(#pr)"/>
<path d="M654,838 L735,838 L731,940 L647,940 Z" fill="url(#pm)"/>
<path d="M660,870 C662,850 690,848 700,870 C690,895 665,895 660,870 Z" fill="#f29ab8"/><path d="M662,900 C675,885 700,890 712,910 L700,925 L665,925 Z" fill="#6fb9e0"/><circle cx="708" cy="866" r="19" fill="#c62a2c"/><circle cx="708" cy="866" r="13.7" fill="#3b2a55"/><circle cx="708" cy="866" r="10.5" fill="#f0c53c"/><circle cx="708" cy="866" r="5.7" fill="#2a1414"/>
<path d="M637,1100 L711,1100 L720,1184 L718,1193 L651,1164 L651,1130 L636,1124 Z" fill="url(#pm)"/>
<path d="M658,1100 L670,1066 L684,1092 L696,1060 L708,1100 Z" fill="#c9a43c" stroke="#4a2a1a" stroke-width="1.5"/><circle cx="699" cy="1128" r="15" fill="#c62a2c"/><circle cx="699" cy="1128" r="10.8" fill="#3b2a55"/><circle cx="699" cy="1128" r="8.2" fill="#f0c53c"/><circle cx="699" cy="1128" r="4.5" fill="#2a1414"/>
<!-- middle slider -->
<path d="M640,930 Q640,918 652,918 L654,918 L654,937 L733,937 L733,918 L738,918 Q748,918 748,930 L748,960 Q748,971 737,971 L652,971 Q640,971 640,960 Z" fill="#141414"/>
<!-- right side panel black frame -->
<path d="M938,1010 L947,1010 L1073,985 L1078,939 L1114,965 L1149,1011 L1197,1065 L1228,1106 L1215,1140 L1180,1172 L1140,1200 L1070,1228 L1040,1235 L1023,1225 L1021,1212 L1014,1190 L1005,1168 L992,1146 L985,1125 L970,1100 L955,1080 L945,1065 L940,1050 L936,1030 Z" fill="#141414"/>
<path d="M970,1020 L1073,990 L1109,1022 L1137,1070 L1168,1108 L1180,1135 L1140,1105 L1035,1158 L1025,1125 L1010,1100 L995,1080 L985,1063 L975,1042 Z" fill="url(#pm)"/>
<g><path d="M1040,1050 L1052,1012 L1066,1040 L1080,1005 L1090,1040 L1106,1018 L1104,1056 Z" fill="#e9c24a" stroke="#4a2a1a" stroke-width="1.5"/><circle cx="1092" cy="1068" r="22" fill="#c62a2c"/><circle cx="1092" cy="1068" r="15.8" fill="#3b2a55"/><circle cx="1092" cy="1068" r="12.1" fill="#f0c53c"/><circle cx="1092" cy="1068" r="6.6" fill="#2a1414"/><circle cx="1030" cy="1056" r="15" fill="#c62a2c"/><circle cx="1030" cy="1056" r="10.8" fill="#3b2a55"/><circle cx="1030" cy="1056" r="8.2" fill="#f0c53c"/><circle cx="1030" cy="1056" r="4.5" fill="#2a1414"/><path d="M990,1085 C1000,1065 1030,1075 1050,1095 C1035,1110 1005,1108 990,1085 Z" fill="#f29ab8" stroke="#7a2a2a" stroke-width="1"/><path d="M1045,1110 C1060,1090 1090,1098 1100,1118 C1085,1130 1060,1128 1045,1110 Z" fill="#6fb9e0"/><circle cx="1115" cy="1110" r="8" fill="#e5502c"/></g>
<!-- right slider -->
<path d="M1035,1158 L1140,1105 L1168,1118 L1182,1151 L1175,1172 L1070,1198 L1058,1193 Z" fill="#161616"/>
<path d="M1053,1162 L1138,1123 L1166,1154 L1075,1191 Z" fill="url(#pm)"/>
<!-- neck strap -->
<path d="M886,756 L990,756 L1004,792 L1000,830 L900,830 Z" fill="url(#pr)"/>
<!-- neck buckle -->
<path d="M888,816 L900,812 L998,790 L1000,778 L1018,792 L1020,820 L1012,832 L1030,840 L1040,860 L1032,900 L1054,911 L1076,984 L1073,988 L947,1015 L931,982 L921,939 L920,910 L904,880 L904,860 L900,840 Z" fill="#161616"/>
<path d="M924,830 L998,812 L1012,878 L942,900 Z" fill="#2a2a2a"/>
<path d="M929,836 L990,819 L1004,868 L944,888 Z" fill="url(#gbtn)"/>
<path d="M943,954 L1042,920 L1058,968 L956,992 Z" fill="url(#pr)"/>
<text x="0" y="0" transform="translate(961,892) rotate(-14)" font-family="Liberation Sans, sans-serif" font-weight="bold" font-size="8" fill="#0a0a0a">LOCK ▽</text>
<path d="M940,850 L995,835 M943,860 L998,845 M946,870 L1000,855" stroke="#c92a2c" stroke-width="1.5"/>
<!-- front D ring -->
<path d="M996,1286 C994,1310 993,1333 999,1341 C1005,1347 1012,1341 1015,1330 C1018,1315 1020,1300 1021,1284" fill="none" stroke="#141414" stroke-width="15"/>
<path d="M995,1300 C994,1315 994,1325 996,1330" fill="none" stroke="#555" stroke-width="1.5"/>
</g><!--/harness-->
<g id="texts">
<text class="t" x="142.5" y="134" font-size="66.5" stroke="#0a0a0a" stroke-width="1.9" textLength="1346" lengthAdjust="spacingAndGlyphs">CONVENIENT 3 BUCKLES FITTING SYSTEM</text>
<text class="t" x="222" y="190" font-size="41" stroke="#0a0a0a" stroke-width="1.1" textLength="1188" lengthAdjust="spacingAndGlyphs">No longer go through dog's head or put dog paw thru a loop,</text>
<text class="t" x="546" y="249" font-size="41" stroke="#0a0a0a" stroke-width="1.1" textLength="549" lengthAdjust="spacingAndGlyphs">Easy to Put on and Take Off</text>
<text class="l" x="546.5" y="444.5" textLength="363" lengthAdjust="spacingAndGlyphs">Highly Reflective Trim</text>
<text class="l" x="114.5" y="596" textLength="191" lengthAdjust="spacingAndGlyphs">Top Handle</text>
<text class="l" x="115" y="712" font-size="36" textLength="202.5" lengthAdjust="spacingAndGlyphs">Snap Buckle</text>
<text class="l" x="169.5" y="752" font-size="36" textLength="196" lengthAdjust="spacingAndGlyphs">at the chest</text>
<text class="l" x="968.5" y="615" textLength="463.5" lengthAdjust="spacingAndGlyphs">Aluminum Alloy Leash Hook</text>
<text class="l" x="1125" y="778" font-size="36" textLength="203" lengthAdjust="spacingAndGlyphs">Snap Buckle</text>
<text class="l" x="1247" y="820.6" font-size="36" textLength="185" lengthAdjust="spacingAndGlyphs">at the neck</text>
<text class="l" x="115" y="1155" textLength="273" lengthAdjust="spacingAndGlyphs">Adjustable Strap</text>
<text class="l" x="1089" y="1308" font-size="36" textLength="340" lengthAdjust="spacingAndGlyphs">No Pull Front D-Ring</text>
<text class="l" x="595" y="1438" font-size="40" textLength="393" lengthAdjust="spacingAndGlyphs">Breathable Mesh Pad</text>
</g>
<g id="lines">
<line class="ln" x1="716.5" y1="464" x2="716.5" y2="714"/><circle class="dt" cx="717" cy="464" r="7.7"/>
<line class="ln" x1="158.8" y1="618.4" x2="568" y2="618.4"/><circle class="dt" cx="158.8" cy="618.4" r="7.7"/>
<line class="ln" x1="163.8" y1="765" x2="476" y2="765"/><circle class="dt" cx="163.8" cy="765" r="7.7"/>
<line class="ln" x1="873" y1="637.5" x2="1328" y2="637.5"/><circle class="dt" cx="1328" cy="637.5" r="7.7"/>
<line class="ln" x1="972" y1="844.7" x2="1329" y2="844.7"/><circle class="dt" cx="1329" cy="844.7" r="7.7"/>
<line class="ln" x1="158.8" y1="1173" x2="447.5" y2="1173"/><circle class="dt" cx="158.8" cy="1173" r="7.7"/>
<line class="ln" x1="1008.5" y1="1339" x2="1306" y2="1339"/><circle class="dt" cx="1306" cy="1339" r="7.7"/>
<line class="ln" x1="722.5" y1="1290" x2="722.5" y2="1399"/>
</g>
</svg>
</body></html>
